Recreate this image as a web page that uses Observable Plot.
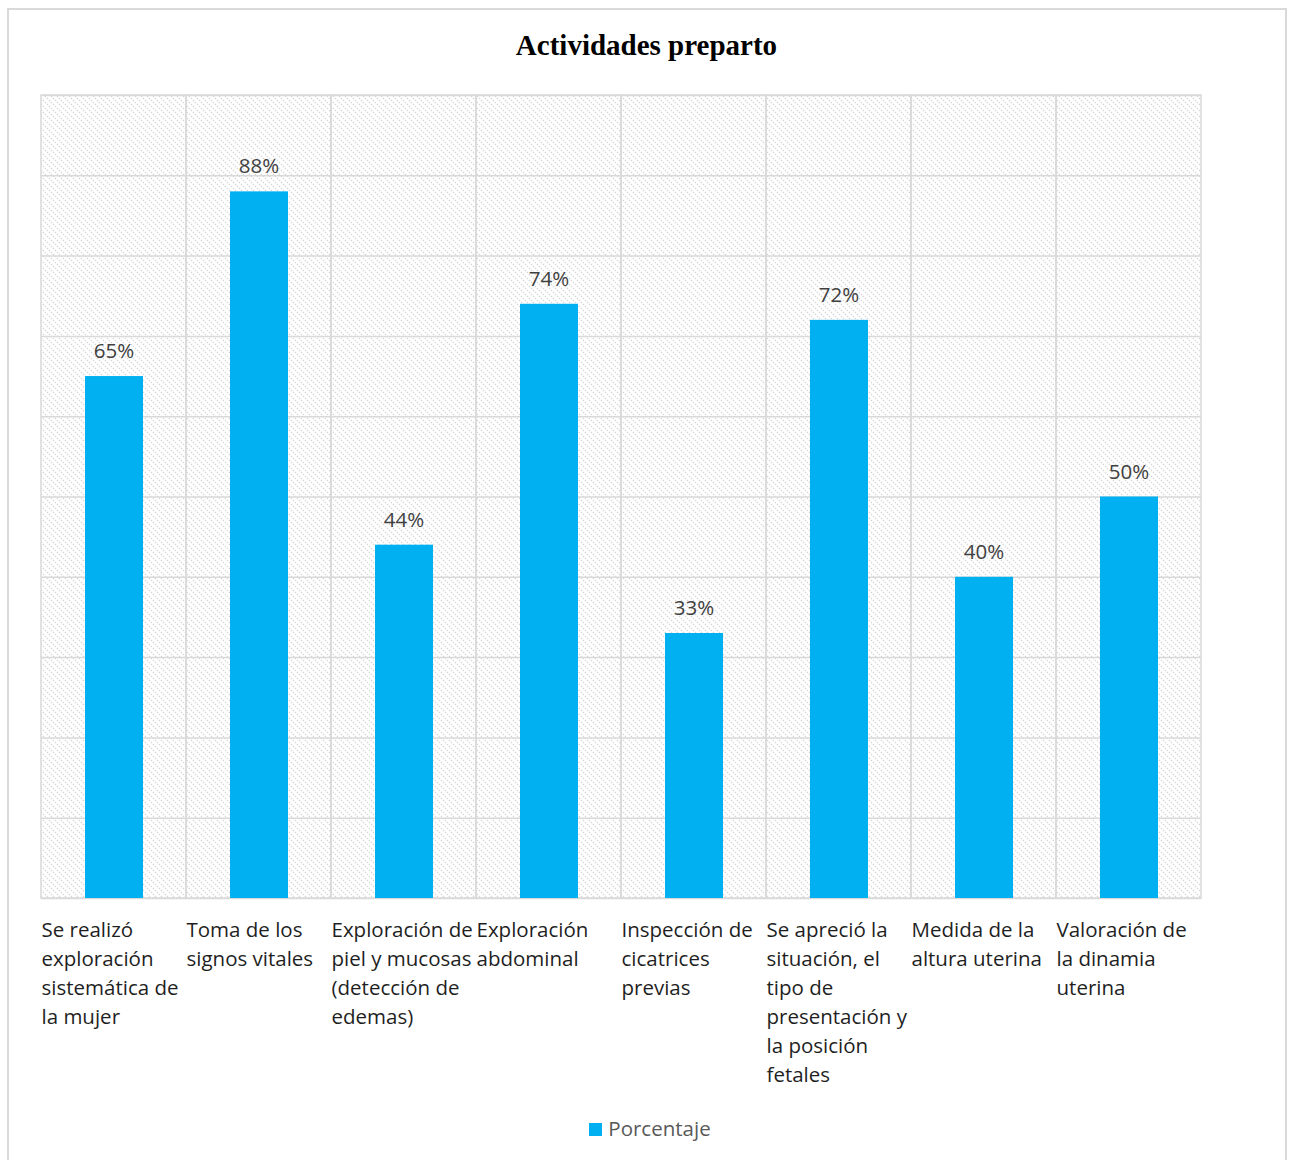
<!DOCTYPE html>
<html>
<head>
<meta charset="utf-8">
<script src="https://cdn.jsdelivr.net/npm/d3@7"></script>
<script src="https://cdn.jsdelivr.net/npm/@observablehq/plot@0.6"></script>
<style>
  html, body { margin: 0; padding: 0; background: #fff; }
  #frame { position: absolute; left: 7px; top: 8px; width: 1280px; height: 1160px; border: 2px solid #d9d9d9; border-bottom: none; box-sizing: border-box; }
  #title { position: absolute; left: 0; top: 29px; width: 1293px; text-align: center; font-family: "Liberation Serif", "Times New Roman", serif; font-weight: bold; font-size: 29px; color: #000; }
  #chart { position: absolute; left: 0; top: 75px; }
  #legend { position: absolute; left: 0; top: 1114px; width: 1300px; text-align: center; font-family: "Open Sans", sans-serif; font-size: 20.5px; color: #595959; }
  #legend .sw { display: inline-block; width: 13px; height: 13px; background: #00B0F0; margin-right: 6px; vertical-align: 0px; }
</style>
</head>
<body>
<div id="frame"></div>
<div id="title">Actividades preparto</div>
<div id="chart"></div>
<div id="legend"></div>
<script>
const categories = [
  "Se realizó\nexploración\nsistemática de\nla mujer",
  "Toma de los\nsignos vitales",
  "Exploración de\npiel y mucosas\n(detección de\nedemas)",
  "Exploración\nabdominal",
  "Inspección de\ncicatrices\nprevias",
  "Se apreció la\nsituación, el\ntipo de\npresentación y\nla posición\nfetales",
  "Medida de la\naltura uterina",
  "Valoración de\nla dinamia\nuterina"
];
const values = [65, 88, 44, 74, 33, 72, 40, 50];
const seriesName = "Porcentaje";
const yTicks = [0, 10, 20, 30, 40, 50, 60, 70, 80, 90, 100];

const data = categories.map((c, i) => ({ cat: c, value: values[i] }));

const chart = Plot.plot({
  width: 1293,
  height: 1030,
  marginLeft: 41,
  marginRight: 92,
  marginTop: 20,
  marginBottom: 207,
  style: { fontFamily: "'Open Sans', sans-serif", background: "transparent" },
  x: { domain: categories, padding: 0, label: null },
  y: { domain: [0, 100], label: null, axis: null },
  marks: [
    Plot.rect(categories, { x: d => d, y1: 0, y2: 100, fill: "url(#hatch)", stroke: "#d9d9d9", strokeWidth: 1.5 }),
    Plot.ruleY(yTicks, { stroke: "#d9d9d9", strokeWidth: 1.5 }),
    Plot.barY(data, { x: "cat", y: "value", fill: "#00B0F0", insetLeft: 44, insetRight: 43 }),
    Plot.text(data, { x: "cat", y: "value", text: d => d.value + "%", dy: -25, fontSize: 20.5, fill: "#404040" }),
    Plot.axisX({ tickSize: 0, tickPadding: 18, textAnchor: "start", dx: -72.5, lineAnchor: "top", lineHeight: 1.415, fontSize: 20.5, fill: "#1f1f1f", label: null })
  ]
});

const defs = d3.create("svg:defs");
const pat = defs.append("pattern").attr("id", "hatch").attr("patternUnits", "userSpaceOnUse").attr("width", 6).attr("height", 6);
pat.append("path").attr("d", "M-1,-1 L7,7 M-1,5 L1,7 M5,-1 L7,1").attr("stroke", "#d6d6d6").attr("stroke-width", 1.3).attr("stroke-dasharray", "1.4,1.4");
chart.insertBefore(defs.node(), chart.firstChild);

document.getElementById("chart").appendChild(chart);
document.getElementById("legend").innerHTML = '<span class="sw"></span>' + seriesName;
</script>
</body>
</html>
